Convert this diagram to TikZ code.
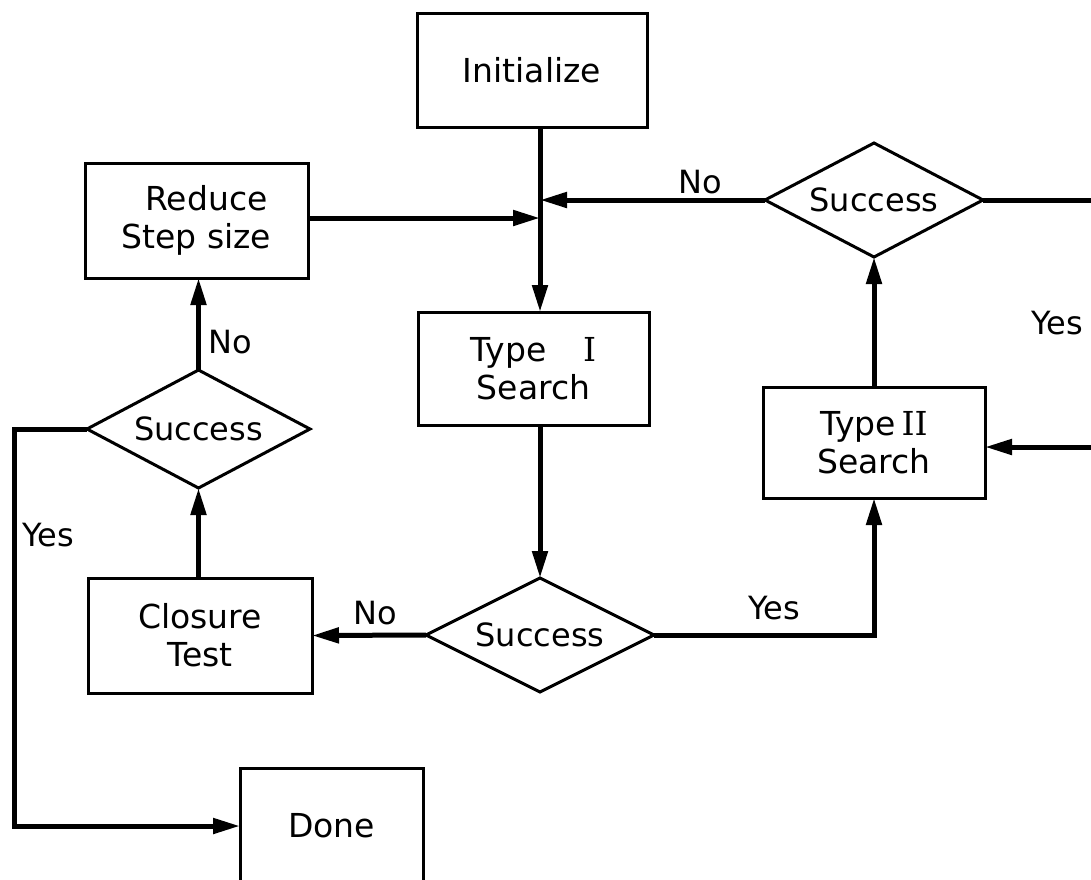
\documentclass[tikz,border=0pt]{standalone}
\usepackage{fontspec}
\setmainfont{DejaVu Sans}
\newfontfamily\romfont{DejaVu Serif}
\usetikzlibrary{arrows.meta,shapes.geometric}
\begin{document}
\begin{tikzpicture}[x=1pt,y=-1pt,
  box/.style={draw,line width=3pt,rectangle,inner sep=0pt,outer sep=0pt,align=center,font=\fontsize{33}{38}\selectfont},
  dia/.style={draw,line width=3pt,diamond,aspect=2.5,inner sep=0pt,outer sep=0pt,font=\fontsize{32}{38}\selectfont},
  conn/.style={line width=5pt,-{Triangle[length=27pt,width=15pt]}},
  plain/.style={line width=5pt},
  lbl/.style={font=\fontsize{32}{38}\selectfont,inner sep=0pt}]
\useasboundingbox (0,0) rectangle (1091,879);
% nodes
\node[box,minimum width=230pt,minimum height=114pt] (init) at (532,70) {Initialize};
\node[box,minimum width=223pt,minimum height=115pt] (reduce) at (196.5,220.5) {\hspace{0.6em}Reduce\\Step size};
\node[box,minimum width=231pt,minimum height=113pt] (t1) at (533.5,368.5) {Type\hspace{1.1em}{\romfont I}\\Search};
\node[dia,minimum width=218pt,minimum height=114pt] (trdia) at (874,200) {Success};
\node[box,minimum width=222pt,minimum height=111pt] (t2) at (874,442.5) {Type\,{\romfont II}\\Search};
\node[dia,minimum width=223pt,minimum height=118pt] (ldia) at (198.5,429) {Success};
\node[dia,minimum width=228pt,minimum height=114pt] (mdia) at (540,635) {Success};
\node[box,minimum width=224pt,minimum height=115pt] (closure) at (200,635.5) {Closure\\Test};
\node[box,minimum width=183pt,minimum height=116pt] (done) at (331.5,826) {Done};
% labels
\node[lbl] (lno1) at (700,182) {No};
\node[lbl] (lyes1) at (1057,323) {Yes};
\node[lbl] (lno2) at (230,342) {No};
\node[lbl] (lyes2) at (774,608) {Yes};
\node[lbl] (lno3) at (375,613) {No};
\node[lbl] (lyes3) at (48,535) {Yes};
% coordinates
\coordinate (j1) at (540,218);
\coordinate (r1) at (1091,200);
\coordinate (r2) at (1091,447);
\coordinate (lc) at (14,826);
% connectors
\draw[conn] (init.south -| j1) -- (t1.north -| j1);
\draw[conn] (reduce.east |- j1) -- (j1);
\draw[conn] (trdia.west) -- (trdia.west -| j1);
\draw[plain] (trdia.east) -- (r1);
\draw[conn] (r2) -- (t2.east |- r2);
\draw[conn] (t2.north) -- (trdia.south);
\draw[conn] (t1.south -| j1) -- (mdia.north);
\draw[conn] (mdia.east) -| (t2.south);
\draw[conn] (mdia.west) -- (closure.east);
\draw[conn] (ldia.south |- closure.north) -- (ldia.south);
\draw[conn] (ldia.north) -- (reduce.south -| ldia.north);
\draw[conn] (ldia.west) -| (lc) -- (done.west);
\end{tikzpicture}
\end{document}
